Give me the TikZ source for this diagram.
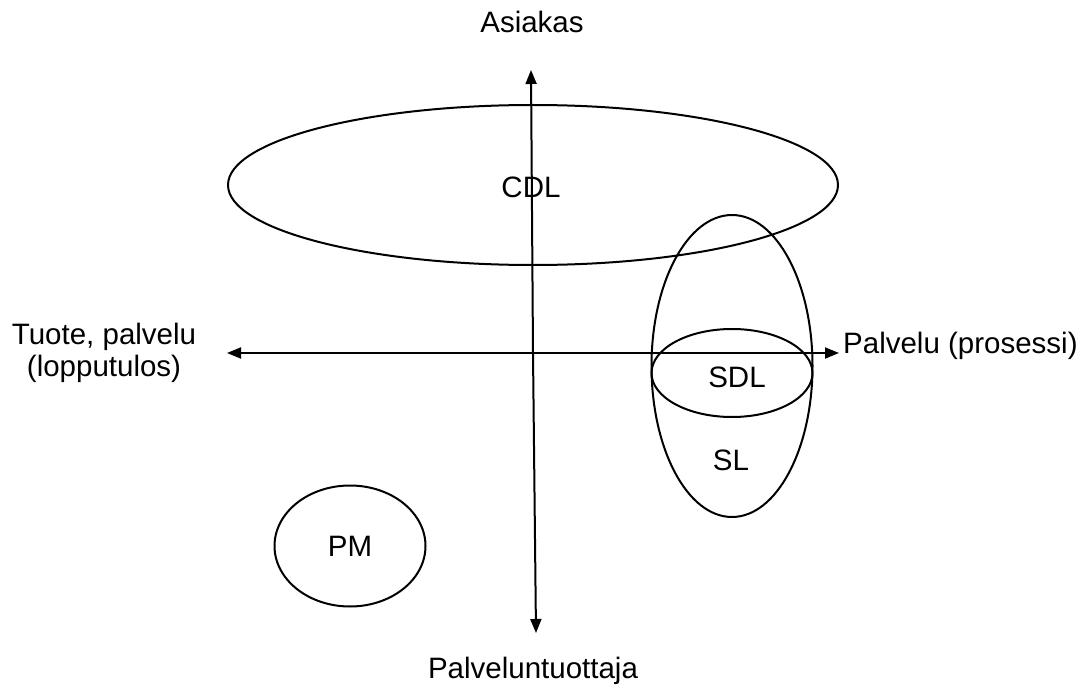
\documentclass[tikz,border=0pt]{standalone}
\usepackage{fontspec}
\setmainfont{Liberation Sans}
\usetikzlibrary{arrows.meta,shapes.geometric}

\begin{document}
\begin{tikzpicture}[x=1pt,y=-1pt,
	lbl/.style={inner sep=0pt,font=\fontsize{29.5}{32}\selectfont},
	oval/.style={ellipse,draw,line width=2pt,inner sep=0pt,font=\fontsize{29.5}{32}\selectfont},
	axis/.style={line width=2pt,-{Triangle[length=14pt,width=11pt]}}]
	\useasboundingbox (0,0) rectangle (1090,690);
	% ellipses
	\node[oval,minimum width=610,minimum height=160] (cdl) at (533,185) {};
	\node[lbl] at (531,187) {CDL};
	\node[oval,minimum width=161,minimum height=302] (sl) at (732,366) {};
	\node[lbl] at (731,460) {SL};
	\node[oval,minimum width=161,minimum height=88] (sdl) at (732,373) {};
	\node[lbl] at (737,377) {SDL};
	\node[oval,minimum width=151,minimum height=121] (pm) at (350,546) {PM};
	% axes
	\coordinate (origo) at (533,353);
	\coordinate (ylos) at (531,70);
	\coordinate (alas) at (536,633);
	\coordinate (vasen) at (227,353);
	\coordinate (oikea) at (839,353);
	\draw[axis] (origo) -- (ylos);
	\draw[axis] (origo) -- (alas);
	\draw[axis] (origo) -- (vasen);
	\draw[axis] (origo) -- (oikea);
	% labels
	\node[lbl,anchor=base] (asiakas) at (532,33) {Asiakas};
	\node[lbl,anchor=base] (tuottaja) at (533,678) {Palveluntuottaja};
	\node[lbl,anchor=base west] (prosessi) at (843,353) {Palvelu (prosessi)};
	\node[lbl,align=center] (tuote) at (104,353) {Tuote, palvelu\\(lopputulos)};
\end{tikzpicture}
\end{document}
